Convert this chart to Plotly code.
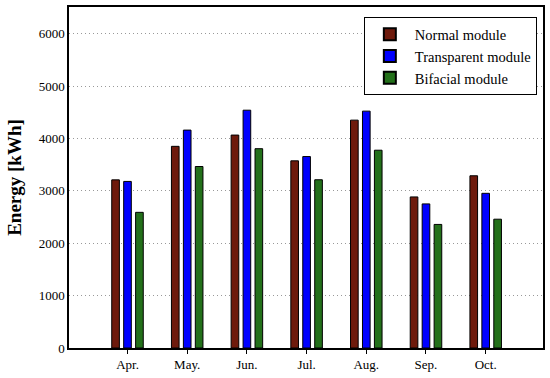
import plotly.graph_objects as go

months = ["Apr.", "May.", "Jun.", "Jul.", "Aug.", "Sep.", "Oct."]
normal = [3210, 3850, 4065, 3573, 4350, 2884, 3288]
transparent = [3180, 4160, 4540, 3655, 4522, 2751, 2953]
bifacial = [2590, 3465, 3805, 3212, 3776, 2359, 2459]
y_ticks = [0, 1000, 2000, 3000, 4000, 5000, 6000]

series = [
    ("Normal module", normal, "#6e1a0c"),
    ("Transparent module", transparent, "#0000ff"),
    ("Bifacial module", bifacial, "#23701a"),
]

fig = go.Figure()
for name, vals, color in series:
    fig.add_trace(go.Bar(
        x=list(range(len(months))), y=vals, name=name,
        marker=dict(color=color, line=dict(color="black", width=1)),
    ))

font_family = "Liberation Serif, Times New Roman, serif"
fig.update_layout(
    width=550, height=378,
    margin=dict(l=69, r=5, t=5, b=30),
    paper_bgcolor="white", plot_bgcolor="white",
    barmode="group", bargap=0.4, bargroupgap=0.36,
    font=dict(family=font_family, size=13, color="black"),
    legend=dict(
        x=0.987, y=0.97, xanchor="right", yanchor="top",
        bgcolor="white", bordercolor="black", borderwidth=1,
        font=dict(family=font_family, size=14.5, color="black"),
        tracegroupgap=0, itemsizing="constant", itemwidth=40,
    ),
    showlegend=True,
)
fig.update_xaxes(
    range=[-0.98, 6.96], tickmode="array",
    tickvals=list(range(len(months))), ticktext=months,
    showline=True, linecolor="black", linewidth=1.5, mirror=True,
    ticks="outside", ticklen=4, tickcolor="black",
    showgrid=False, zeroline=False,
    tickfont=dict(family=font_family, size=13, color="black"),
)
fig.update_yaxes(
    range=[0, 6510], tickmode="array", tickvals=y_ticks,
    ticktext=[str(v) for v in y_ticks],
    showline=True, linecolor="black", linewidth=1.5, mirror=True,
    ticks="", showgrid=True, gridcolor="#999999", griddash="1px,3px", gridwidth=1,
    zeroline=False,
    tickfont=dict(family=font_family, size=13, color="black"),
    title=dict(text="<b>Energy [kWh]</b>", standoff=12,
               font=dict(family=font_family, size=19, color="black")),
)
fig.write_html(
    "out.html",
    config={"displayModeBar": False},
    post_script="document.body.style.margin='0';document.body.style.overflow='hidden';",
)
